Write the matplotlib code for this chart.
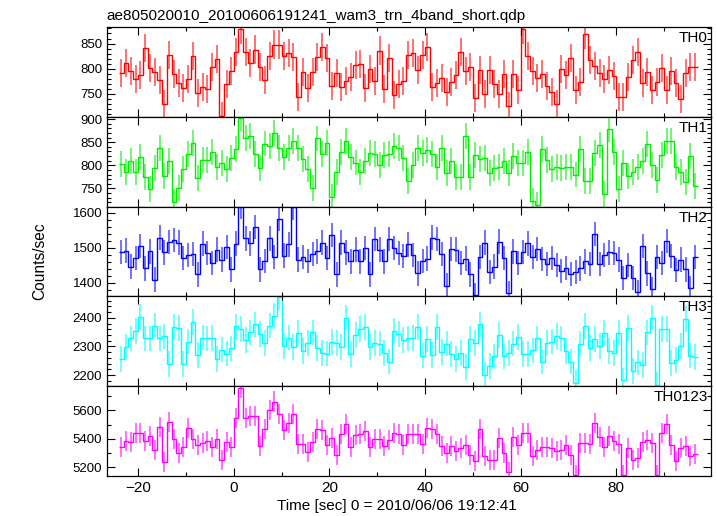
import numpy as np
import matplotlib.pyplot as plt
from matplotlib.ticker import MultipleLocator

plt.rcParams['font.family'] = ['Liberation Sans', 'DejaVu Sans']

# 1-s bins starting at t = -24 s
t_start = -24
bin_width = 1

th0 = [791, 811, 796, 779, 788, 841, 802, 793, 777, 730,
       828, 789, 771, 761, 780, 826, 751, 763, 759, 803,
       820, 706, 769, 796, 833, 878, 833, 811, 838, 804,
       777, 825, 848, 848, 825, 831, 823, 744, 794, 762,
       794, 823, 843, 821, 765, 792, 763, 775, 784, 808,
       810, 762, 800, 775, 836, 759, 821, 747, 769, 775,
       827, 831, 798, 828, 843, 764, 771, 782, 754, 773,
       788, 833, 796, 803, 742, 798, 749, 798, 769, 749,
       789, 726, 789, 757, 878, 825, 796, 781, 790, 765,
       753, 730, 800, 788, 821, 757, 773, 868, 818, 806,
       791, 780, 798, 786, 744, 744, 784, 818, 833, 771,
       794, 757, 774, 801, 757, 796, 771, 740, 792, 803,
       803]
th1 = [803, 785, 809, 785, 817, 774, 749, 794, 838, 777,
       810, 720, 751, 792, 825, 849, 773, 812, 812, 829,
       797, 805, 792, 816, 835, 903, 859, 863, 825, 794,
       847, 842, 869, 838, 818, 838, 853, 837, 814, 792,
       751, 858, 825, 849, 731, 785, 829, 852, 817, 806,
       786, 810, 827, 825, 801, 822, 825, 841, 837, 816,
       766, 800, 838, 826, 833, 825, 797, 837, 783, 809,
       775, 775, 864, 775, 822, 814, 815, 783, 794, 797,
       810, 783, 820, 804, 804, 829, 723, 714, 836, 812,
       792, 797, 795, 796, 796, 780, 835, 766, 766, 827,
       844, 738, 879, 829, 749, 805, 777, 786, 797, 809,
       846, 801, 768, 823, 852, 852, 796, 786, 764, 820,
       755]
th2 = [1488, 1492, 1446, 1471, 1505, 1441, 1490, 1409, 1529, 1487,
       1517, 1523, 1515, 1471, 1480, 1482, 1424, 1512, 1485, 1456,
       1495, 1466, 1502, 1438, 1512, 1618, 1527, 1513, 1559, 1438,
       1463, 1527, 1473, 1583, 1478, 1510, 1616, 1466, 1473, 1463,
       1483, 1490, 1515, 1471, 1537, 1424, 1515, 1487, 1461, 1495,
       1461, 1500, 1424, 1526, 1495, 1461, 1525, 1500, 1485, 1477,
       1510, 1480, 1427, 1463, 1469, 1529, 1526, 1482, 1392, 1497,
       1495, 1456, 1469, 1424, 1365, 1473, 1515, 1431, 1446, 1518,
       1471, 1370, 1490, 1456, 1488, 1513, 1474, 1497, 1468, 1453,
       1471, 1451, 1433, 1443, 1425, 1431, 1441, 1461, 1453, 1539,
       1453, 1480, 1487, 1485, 1466, 1414, 1451, 1414, 1373, 1505,
       1427, 1382, 1473, 1456, 1520, 1476, 1436, 1466, 1438, 1384,
       1473]
th3 = [2256, 2299, 2328, 2355, 2403, 2328, 2328, 2373, 2328, 2335,
       2239, 2367, 2364, 2238, 2317, 2385, 2269, 2331, 2328, 2329,
       2257, 2289, 2275, 2293, 2370, 2361, 2322, 2349, 2377, 2343,
       2311, 2373, 2407, 2473, 2301, 2331, 2299, 2346, 2283, 2311,
       2349, 2295, 2277, 2275, 2316, 2311, 2299, 2401, 2274, 2340,
       2361, 2367, 2299, 2313, 2310, 2277, 2247, 2353, 2343, 2323,
       2328, 2329, 2367, 2268, 2325, 2271, 2367, 2281, 2310, 2274,
       2256, 2277, 2227, 2325, 2311, 2377, 2199, 2232, 2265, 2341,
       2265, 2277, 2310, 2334, 2274, 2274, 2286, 2328, 2247, 2313,
       2317, 2337, 2328, 2283, 2247, 2173, 2310, 2371, 2295, 2325,
       2301, 2347, 2283, 2277, 2346, 2181, 2364, 2214, 2244, 2235,
       2349, 2401, 2166, 2361, 2361, 2241, 2253, 2301, 2397, 2268,
       2262]
th0123 = [5344, 5388, 5376, 5438, 5438, 5384, 5419, 5320, 5482, 5238,
          5520, 5402, 5301, 5344, 5473, 5402, 5360, 5372, 5388, 5344,
          5402, 5254, 5379, 5344, 5548, 5755, 5544, 5560, 5560, 5348,
          5471, 5600, 5661, 5572, 5459, 5513, 5576, 5365, 5365, 5308,
          5379, 5466, 5459, 5360, 5407, 5289, 5431, 5506, 5341, 5426,
          5435, 5454, 5344, 5402, 5402, 5348, 5391, 5442, 5431, 5360,
          5431, 5431, 5431, 5365, 5473, 5466, 5431, 5353, 5301, 5348,
          5318, 5336, 5355, 5289, 5242, 5466, 5282, 5254, 5254, 5407,
          5301, 5167, 5414, 5355, 5442, 5442, 5282, 5325, 5344, 5344,
          5336, 5313, 5320, 5355, 5289, 5148, 5369, 5369, 5365, 5513,
          5414, 5341, 5419, 5384, 5365, 5148, 5336, 5254, 5266, 5379,
          5395, 5372, 5148, 5442, 5501, 5355, 5242, 5336, 5348, 5282,
          5294]

# typical 1-sigma errors (counts/sec)
errs = [28, 28, 35, 45, 70]
names = ['TH0', 'TH1', 'TH2', 'TH3', 'TH0123']
colors = ['#ff0000', '#00ee00', '#0000ff', '#00ffff', '#ff00ff']
ylims = [(703.6, 883), (710.5, 905), (1361, 1618), (2161, 2475), (5140, 5768)]
ymajor = [50, 50, 100, 100, 200]
yminor = [10, 10, 20, 20, 100]

series = [th0, th1, th2, th3, th0123]

fig = plt.figure(figsize=(7.17, 5.16), dpi=100)
axs = fig.subplots(5, 1, sharex=True)
fig.subplots_adjust(left=0.1492, right=0.9916, top=0.9477, bottom=0.0775, hspace=0)

for i, ax in enumerate(axs):
    y = np.array(series[i], dtype=float)
    edges = t_start + bin_width * np.arange(len(y) + 1)
    centers = 0.5 * (edges[:-1] + edges[1:])
    ax.errorbar(centers, y, yerr=errs[i], fmt='none', ecolor=colors[i],
                elinewidth=1.3, alpha=0.6)
    ax.stairs(y, edges, baseline=None, color=colors[i], lw=1.0)
    ax.set_ylim(*ylims[i])
    ax.set_xlim(-26.5, 99.8)
    ax.yaxis.set_major_locator(MultipleLocator(ymajor[i]))
    ax.yaxis.set_minor_locator(MultipleLocator(yminor[i]))
    ax.xaxis.set_major_locator(MultipleLocator(20))
    ax.xaxis.set_minor_locator(MultipleLocator(10))
    ax.tick_params(which='both', direction='in', top=True, right=True,
                   labelsize=9.5, width=0.8)
    ax.tick_params(which='major', length=6)
    ax.tick_params(which='minor', length=3)
    for s in ax.spines.values():
        s.set_linewidth(0.9)
    ax.text(0.995, 0.955, names[i], transform=ax.transAxes, ha='right',
            va='top', fontsize=11)

axs[-1].tick_params(axis='x', labelsize=11)

fig.text(0.149, 0.962, 'ae805020010_20100606191241_wam3_trn_4band_short.qdp',
         ha='left', va='baseline', fontsize=11)
fig.text(0.056, 0.494, 'Counts/sec', rotation=90, ha='center', va='center',
         fontsize=11.2)
fig.text(0.553, 0.019, 'Time [sec] 0 = 2010/06/06 19:12:41', ha='center',
         va='center', fontsize=11)

fig.savefig('out.png', dpi=100)
